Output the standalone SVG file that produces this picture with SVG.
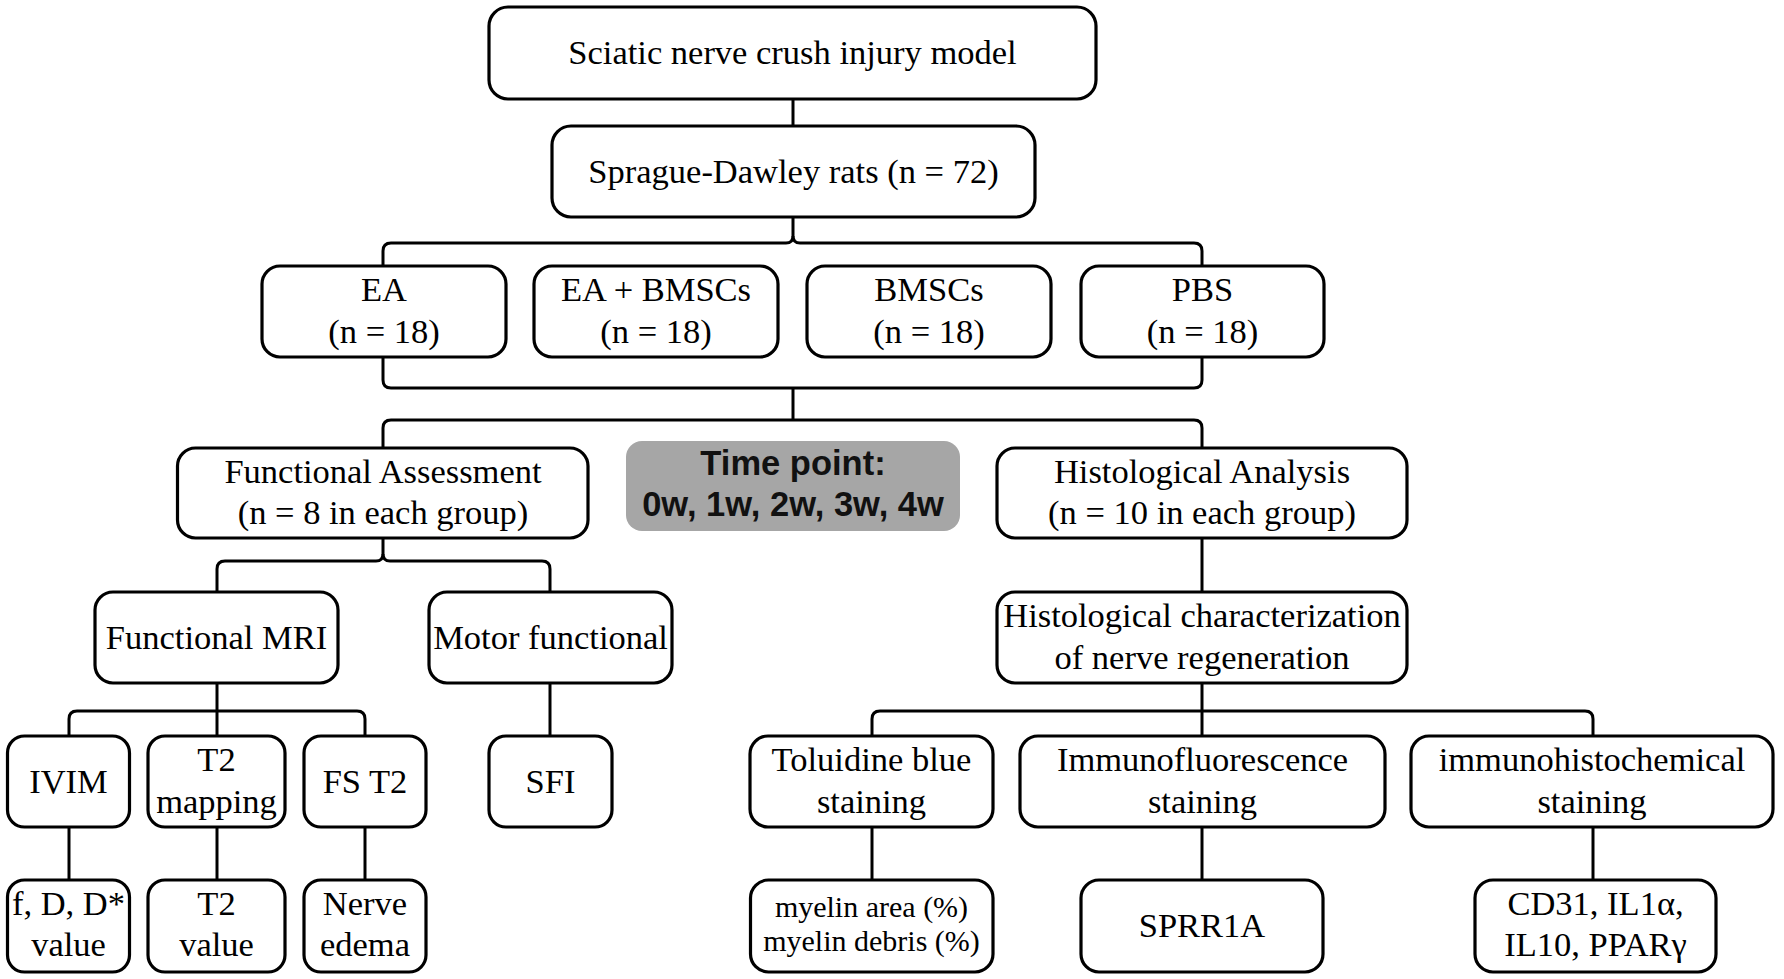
<svg xmlns="http://www.w3.org/2000/svg" width="1784" height="979" viewBox="0 0 1784 979">
<style>
.box{fill:#fff;stroke:#000;stroke-width:3.2}
.t{font-family:"Liberation Serif","Times New Roman",serif;font-size:34.5px;fill:#000;text-anchor:middle}
.s{font-size:30px}
.b{font-family:"Liberation Sans",Arial,sans-serif;font-size:34.5px;font-weight:bold;fill:#111;text-anchor:middle}
.ln{fill:none;stroke:#000;stroke-width:3}
</style>
<rect width="1784" height="979" fill="#fff"/>
<g id="connectors">
<path class="ln" d="M793,99 V126"/>
<path class="ln" d="M793,217 V236 Q793,243 786,243 H391 Q383,243 383,251 V266"/>
<path class="ln" d="M793,236 Q793,243 800,243 H1194 Q1202,243 1202,251 V266"/>
<path class="ln" d="M383,357 V380 Q383,388 391,388 H1194 Q1202,388 1202,380 V357"/>
<path class="ln" d="M793,388 V420"/>
<path class="ln" d="M383,448 V428 Q383,420 391,420 H1194 Q1202,420 1202,428 V448"/>
<path class="ln" d="M383,538 V554 Q383,561 376,561 H225 Q217,561 217,569 V592"/>
<path class="ln" d="M383,554 Q383,561 390,561 H542 Q550,561 550,569 V592"/>
<path class="ln" d="M1202,538 V592"/>
<path class="ln" d="M217,683 V736"/>
<path class="ln" d="M69,736 V719 Q69,711 77,711 H357 Q365,711 365,719 V736"/>
<path class="ln" d="M550,683 V736"/>
<path class="ln" d="M1202,683 V736"/>
<path class="ln" d="M872,736 V719 Q872,711 880,711 H1585 Q1593,711 1593,719 V736"/>
<path class="ln" d="M69,827 V880"/>
<path class="ln" d="M217,827 V880"/>
<path class="ln" d="M365,827 V880"/>
<path class="ln" d="M872,827 V880"/>
<path class="ln" d="M1202,827 V880"/>
<path class="ln" d="M1593,827 V880"/>
</g>
<g id="model"><rect class="box" x="489" y="7" width="607" height="92" rx="19"/><text class="t" x="792.5" y="64">Sciatic nerve crush injury model</text></g>
<g id="rats"><rect class="box" x="552" y="126" width="483" height="91" rx="19"/><text class="t" x="793.5" y="182.5">Sprague-Dawley rats (n = 72)</text></g>
<g id="ea"><rect class="box" x="262" y="266" width="244" height="91" rx="18"/><text class="t" x="384" y="301">EA</text><text class="t" x="384" y="342.5">(n = 18)</text></g>
<g id="eabmsc"><rect class="box" x="534" y="266" width="244" height="91" rx="18"/><text class="t" x="656" y="301">EA + BMSCs</text><text class="t" x="656" y="342.5">(n = 18)</text></g>
<g id="bmsc"><rect class="box" x="807" y="266" width="244" height="91" rx="18"/><text class="t" x="929" y="301">BMSCs</text><text class="t" x="929" y="342.5">(n = 18)</text></g>
<g id="pbs"><rect class="box" x="1081" y="266" width="243" height="91" rx="18"/><text class="t" x="1202.5" y="301">PBS</text><text class="t" x="1202.5" y="342.5">(n = 18)</text></g>
<g id="fa"><rect class="box" x="177.5" y="448" width="410.5" height="90" rx="18"/><text class="t" x="383" y="482.5">Functional Assessment</text><text class="t" x="383" y="524">(n = 8 in each group)</text></g>
<g id="time"><rect x="626" y="441" width="334" height="90" rx="16" fill="#a6a6a6"/><text class="b" x="793" y="475">Time point:</text><text class="b" x="793" y="516">0w, 1w, 2w, 3w, 4w</text></g>
<g id="ha"><rect class="box" x="997" y="448" width="410" height="90" rx="18"/><text class="t" x="1202" y="482.5">Histological Analysis</text><text class="t" x="1202" y="524">(n = 10 in each group)</text></g>
<g id="fmri"><rect class="box" x="95" y="592" width="243" height="91" rx="18"/><text class="t" x="216.5" y="648.5">Functional MRI</text></g>
<g id="motor"><rect class="box" x="429" y="592" width="243" height="91" rx="18"/><text class="t" x="550.5" y="648.5">Motor functional</text></g>
<g id="hc"><rect class="box" x="997" y="592" width="410" height="91" rx="18"/><text class="t" x="1202" y="627">Histological characterization</text><text class="t" x="1202" y="668.5">of nerve regeneration</text></g>
<g id="ivim"><rect class="box" x="7.5" y="736" width="122" height="91" rx="17"/><text class="t" x="68.5" y="792.5">IVIM</text></g>
<g id="t2map"><rect class="box" x="148" y="736" width="137" height="91" rx="17"/><text class="t" x="216.5" y="771">T2</text><text class="t" x="216.5" y="812.5">mapping</text></g>
<g id="fst2"><rect class="box" x="304" y="736" width="122" height="91" rx="17"/><text class="t" x="365" y="792.5">FS T2</text></g>
<g id="sfi"><rect class="box" x="489" y="736" width="123" height="91" rx="17"/><text class="t" x="550.5" y="792.5">SFI</text></g>
<g id="tb"><rect class="box" x="750" y="736" width="243" height="91" rx="18"/><text class="t" x="871.5" y="771">Toluidine blue</text><text class="t" x="871.5" y="812.5">staining</text></g>
<g id="if"><rect class="box" x="1020" y="736" width="365" height="91" rx="18"/><text class="t" x="1202.5" y="771">Immunofluorescence</text><text class="t" x="1202.5" y="812.5">staining</text></g>
<g id="ihc"><rect class="box" x="1411" y="736" width="362" height="91" rx="18"/><text class="t" x="1592" y="771">immunohistochemical</text><text class="t" x="1592" y="812.5">staining</text></g>
<g id="fdd"><rect class="box" x="7.5" y="880" width="122" height="92" rx="17"/><text class="t" x="68.5" y="915">f, D, D*</text><text class="t" x="68.5" y="955.5">value</text></g>
<g id="t2v"><rect class="box" x="148" y="880" width="137" height="92" rx="17"/><text class="t" x="216.5" y="915">T2</text><text class="t" x="216.5" y="955.5">value</text></g>
<g id="edema"><rect class="box" x="304" y="880" width="122" height="92" rx="17"/><text class="t" x="365" y="915">Nerve</text><text class="t" x="365" y="955.5">edema</text></g>
<g id="myelin"><rect class="box" x="750.5" y="880" width="242.5" height="92" rx="18"/><text class="t s" x="871.5" y="917">myelin area (%)</text><text class="t s" x="871.5" y="951">myelin debris (%)</text></g>
<g id="sprr"><rect class="box" x="1081" y="880" width="242" height="92" rx="18"/><text class="t" x="1202" y="937">SPRR1A</text></g>
<g id="cd31"><rect class="box" x="1475" y="880" width="241" height="92" rx="18"/><text class="t" x="1595.5" y="915">CD31, IL1α,</text><text class="t" x="1595.5" y="955.5">IL10, PPARγ</text></g>
</svg>
